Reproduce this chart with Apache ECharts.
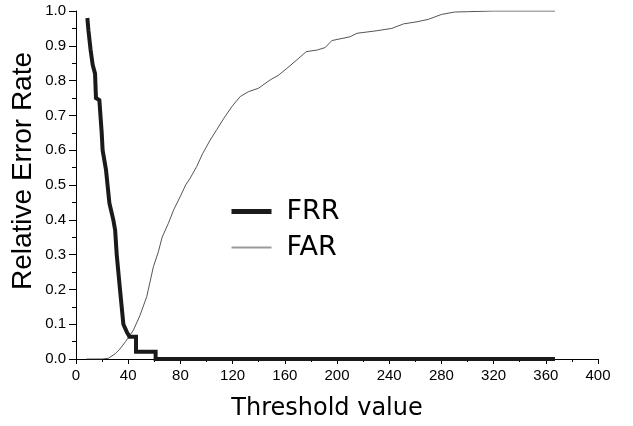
<!DOCTYPE html>
<html>
<head>
<meta charset="utf-8">
<script src="https://cdn.jsdelivr.net/npm/echarts@6/dist/echarts.min.js"></script>
<style>html,body{margin:0;padding:0;background:#fff}#c{width:633px;height:426px}</style>
</head>
<body>
<div id="c"></div>
<script>
var frrT = [8.7, 9.5, 10.7, 11.2, 12.8, 14.6, 15.3, 17.9, 19.7, 20.4, 23, 25.6, 28.6, 30, 31.2, 33.7, 36.3, 38.9, 41, 46, 46, 61, 61, 367];
var frrV = [0.98, 0.945, 0.94, 0.888, 0.845, 0.82, 0.75, 0.744, 0.65, 0.60, 0.543, 0.448, 0.40, 0.37, 0.30, 0.20, 0.10, 0.078, 0.064, 0.064, 0.021, 0.021, 0, 0];
var farT = [8, 20, 24.8, 26, 30, 33.7, 38, 44, 49, 54.2, 59.3, 63.1, 66, 70.8, 75, 79.8, 84, 87.4, 92.5, 97, 102.8, 108, 113, 119.4, 125.8, 132, 139.8, 148.8, 155, 161.6, 170, 176.4, 185, 191, 196, 210, 215.3, 230, 242, 251, 261.3, 270, 280, 290, 300, 320, 367];
var farV = [0, 0, 0.002, 0.005, 0.015, 0.029, 0.05, 0.083, 0.125, 0.179, 0.265, 0.308, 0.35, 0.39, 0.43, 0.466, 0.50, 0.519, 0.553, 0.59, 0.629, 0.66, 0.69, 0.725, 0.754, 0.768, 0.778, 0.802, 0.815, 0.835, 0.862, 0.883, 0.888, 0.895, 0.915, 0.926, 0.936, 0.943, 0.95, 0.963, 0.969, 0.976, 0.99, 0.997, 0.998, 1.0, 1.0];
var seriesNames = ['FRR', 'FAR'];
var xTitle = 'Threshold value';
var yTitle = 'Relative Error Rate';

function zip(a, b) { return a.map(function (v, i) { return [v, b[i]]; }); }

var chart = echarts.init(document.getElementById('c'), null, {renderer: 'canvas'});
var tickFont = {fontFamily: 'Liberation Sans', fontSize: 15, color: '#000'};
chart.setOption({
  animation: false,
  backgroundColor: '#fff',
  grid: {left: 76, right: 35, top: 11, bottom: 67, containLabel: false},
  xAxis: {
    type: 'value', min: 0, max: 400, interval: 40,
    axisLine: {show: true, onZero: false, lineStyle: {color: '#000', width: 1}},
    axisTick: {show: true, length: 5, lineStyle: {color: '#000'}},
    minorTick: {show: true, splitNumber: 2, length: 3, lineStyle: {color: '#000'}},
    splitLine: {show: false},
    axisLabel: Object.assign({margin: 9}, tickFont)
  },
  yAxis: {
    type: 'value', min: 0, max: 1, interval: 0.1,
    axisLine: {show: true, lineStyle: {color: '#000', width: 1}},
    axisTick: {show: true, length: 7, lineStyle: {color: '#000'}},
    minorTick: {show: true, splitNumber: 2, length: 4, lineStyle: {color: '#000'}},
    splitLine: {show: false},
    axisLabel: Object.assign({margin: 10, formatter: function (v) { return v.toFixed(1); }}, tickFont)
  },
  legend: {
    show: true,
    orient: 'vertical', left: 229, top: 198, padding: 0,
    itemWidth: 40, itemHeight: 20, itemGap: 9, itemStyle: {opacity: 0},
    textStyle: {fontFamily: 'DejaVu Sans', fontSize: 27, lineHeight: 20, color: '#000', padding: [0, 0, 0, 10]},
    data: [
      {name: seriesNames[0], lineStyle: {color: '#1a1a1a', width: 5}},
      {name: seriesNames[1], lineStyle: {color: '#9a9a9a', width: 2}}
    ]
  },
  graphic: [
    {type: 'text', position: [23, 171], rotation: Math.PI / 2,
     style: {text: yTitle, font: '28px "Liberation Sans"', fill: '#000', textAlign: 'center', textVerticalAlign: 'middle', x: 0, y: 0}},
    {type: 'text', position: [327, 409],
     style: {text: xTitle, font: '24px "DejaVu Sans"', fill: '#000', textAlign: 'center', textVerticalAlign: 'middle', x: 0, y: 0}}
  ],
  series: [
    {name: seriesNames[0], type: 'line', data: zip(frrT, frrV), symbol: 'none', z: 3,
     lineStyle: {color: '#1a1a1a', width: 4, join: 'miter'}},
    {name: seriesNames[1], type: 'line', data: zip(farT, farV), symbol: 'none', z: 2,
     lineStyle: {color: '#555', width: 1}}
  ]
});
</script>
</body>
</html>
